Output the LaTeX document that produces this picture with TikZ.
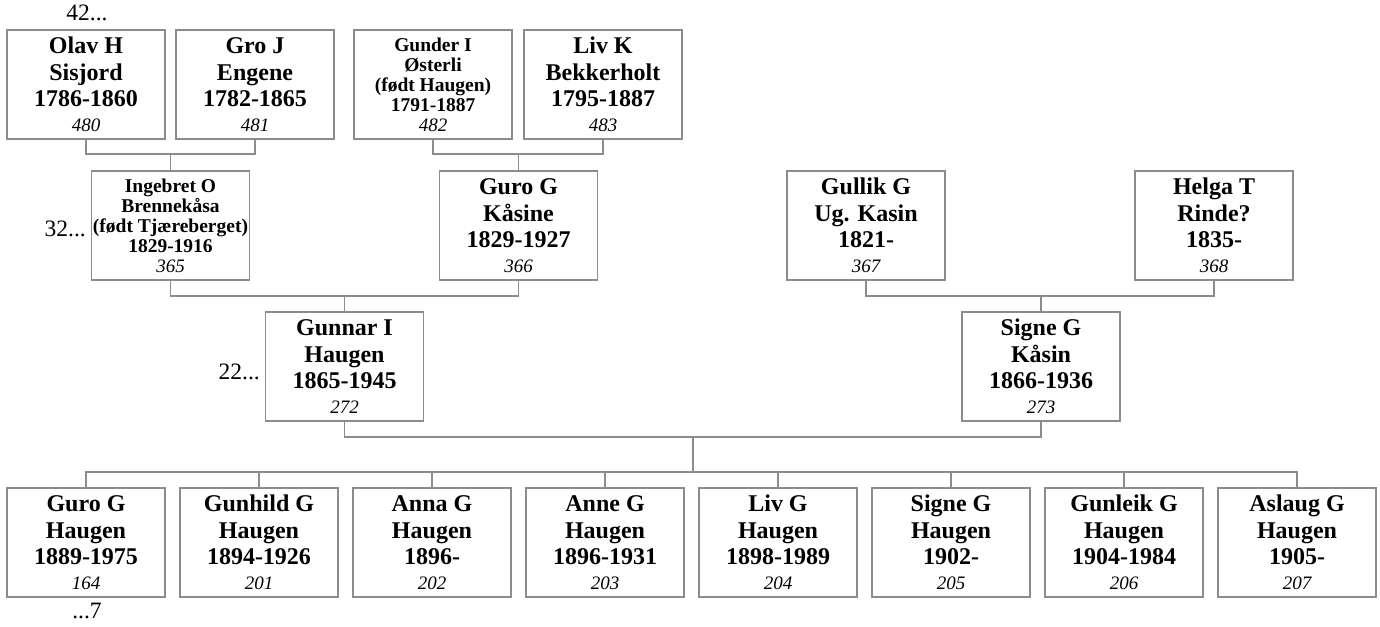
\documentclass[tikz,border=0pt]{standalone}
\usepackage{fontspec}
\setmainfont{Liberation Serif}
\definecolor{linegray}{RGB}{140,140,140}
\tikzset{
  person/.style={draw=linegray, line width=1.3pt, minimum width=158pt, minimum height=109pt,
    inner sep=0pt, align=center, font=\fontsize{24}{26.5}\selectfont\bfseries},
  smallperson/.style={person, font=\fontsize{19.5}{20.3}\selectfont\bfseries},
  gen/.style={font=\fontsize{23.5}{26}\selectfont, inner sep=0pt},
  conn/.style={draw=linegray, line width=1.3pt}
}
\newcommand{\pnum}[1]{{\fontsize{19}{22}\selectfont\mdseries\itshape #1}}
\begin{document}
\begin{tikzpicture}[x=1pt,y=-1pt]
\useasboundingbox (0,0) rectangle (1380,626);
% generation 4
\node[person] (olav) at (86,84.5) {Olav H\\Sisjord\\1786-1860\\[-2pt]\pnum{480}};
\node[person] (gro) at (255,84.5) {Gro J\\Engene\\1782-1865\\[-2pt]\pnum{481}};
\node[smallperson] (gunder) at (433,84.5) {Gunder I\\Østerli\\(født Haugen)\\1791-1887\\[-1pt]\pnum{482}};
\node[person] (liv) at (603,84.5) {Liv K\\Bekkerholt\\1795-1887\\[-2pt]\pnum{483}};
% generation 3
\node[smallperson] (ingebret) at (170.5,225.5) {Ingebret O\\Brennekåsa\\(født Tjæreberget)\\1829-1916\\[-1pt]\pnum{365}};
\node[person] (guro) at (518.5,225.5) {Guro G\\Kåsine\\1829-1927\\[-2pt]\pnum{366}};
\node[person] (gullik) at (866,225.5) {Gullik G\\Ug. Kasin\\1821-\\[-2pt]\pnum{367}};
\node[person] (helga) at (1214,225.5) {Helga T\\Rinde?\\1835-\\[-2pt]\pnum{368}};
% generation 2
\node[person] (gunnar) at (344.5,366.5) {Gunnar I\\Haugen\\1865-1945\\[-2pt]\pnum{272}};
\node[person] (signe) at (1041,366.5) {Signe G\\Kåsin\\1866-1936\\[-2pt]\pnum{273}};
% generation 1
\node[person] (k1) at (86,542.5) {Guro G\\Haugen\\1889-1975\\[-2pt]\pnum{164}};
\node[person] (k2) at (259,542.5) {Gunhild G\\Haugen\\1894-1926\\[-2pt]\pnum{201}};
\node[person] (k3) at (432,542.5) {Anna G\\Haugen\\1896-\\[-2pt]\pnum{202}};
\node[person] (k4) at (605,542.5) {Anne G\\Haugen\\1896-1931\\[-2pt]\pnum{203}};
\node[person] (k5) at (778,542.5) {Liv G\\Haugen\\1898-1989\\[-2pt]\pnum{204}};
\node[person] (k6) at (951,542.5) {Signe G\\Haugen\\1902-\\[-2pt]\pnum{205}};
\node[person] (k7) at (1124,542.5) {Gunleik G\\Haugen\\1904-1984\\[-2pt]\pnum{206}};
\node[person] (k8) at (1297,542.5) {Aslaug G\\Haugen\\1905-\\[-2pt]\pnum{207}};
% generation labels
\node[gen] (l42) at (87,13) {42...};
\node[gen, anchor=east] (l32) at (86,229) {32...};
\node[gen, anchor=east] (l22) at (260,372) {22...};
\node[gen] (l7) at (87,611) {...7};
% junctions
\coordinate (j1) at (170.5,154);
\coordinate (j2) at (518.5,154);
\coordinate (j3) at (344.5,296);
\coordinate (j4) at (1041,296);
\coordinate (j5) at (693,437);
\coordinate (bar) at (693,472);
% connectors
\draw[conn] (olav.south) |- (j1) -| (gro.south);
\draw[conn] (j1) -- (ingebret.north);
\draw[conn] (gunder.south) |- (j2) -| (liv.south);
\draw[conn] (j2) -- (guro.north);
\draw[conn] (ingebret.south) |- (j3) -| (guro.south);
\draw[conn] (j3) -- (gunnar.north);
\draw[conn] (gullik.south) |- (j4) -| (helga.south);
\draw[conn] (j4) -- (signe.north);
\draw[conn] (gunnar.south) |- (j5) -| (signe.south);
\draw[conn] (j5) -- (bar);
\draw[conn] (k1.north) |- (bar) -| (k8.north);
\foreach \k in {k2,k3,k4,k5,k6,k7} {\draw[conn] (\k.north) -- (\k.north |- bar);}
\end{tikzpicture}
\end{document}
